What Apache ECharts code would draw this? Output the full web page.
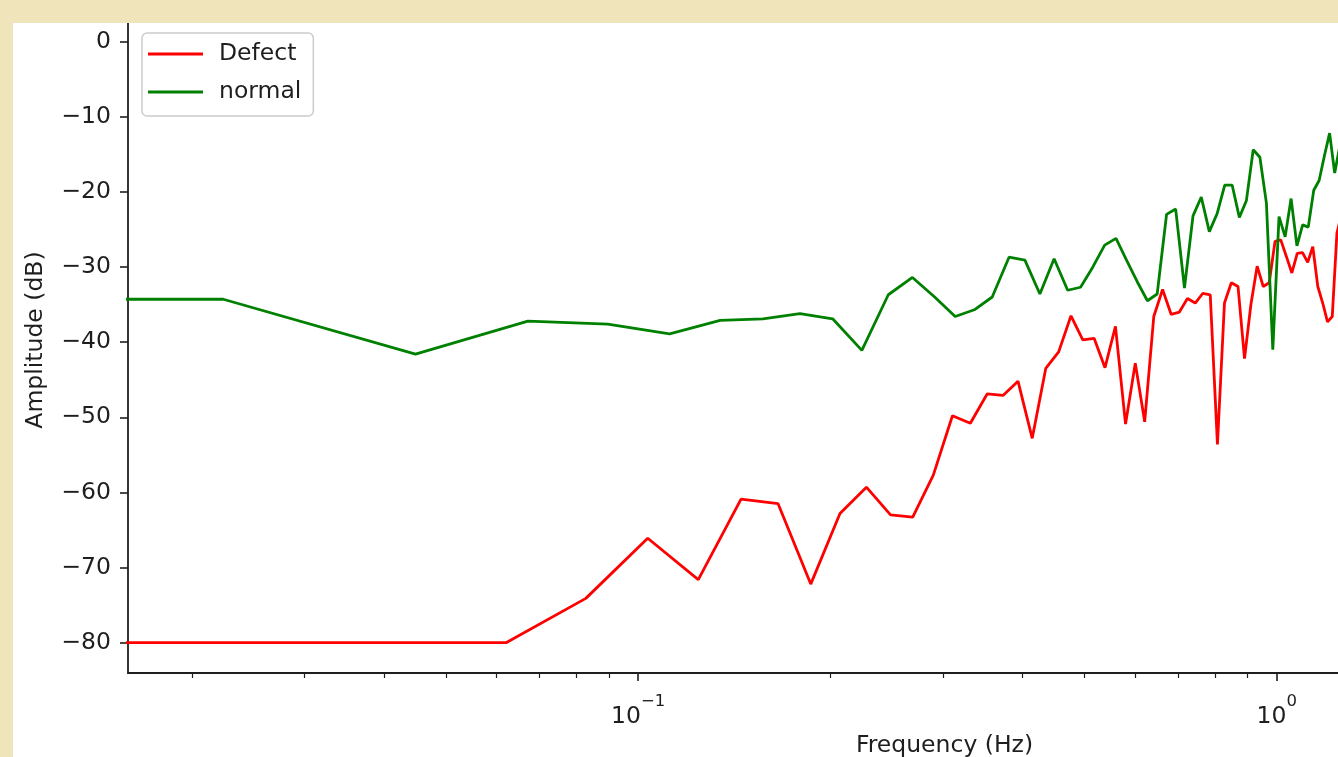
<!DOCTYPE html>
<html>
<head>
<meta charset="utf-8">
<script src="https://cdn.jsdelivr.net/npm/echarts@6/dist/echarts.min.js"></script>
<style>
  html, body { margin: 0; padding: 0; background: #ffffff; }
  #chart { width: 1338px; height: 757px; }
</style>
</head>
<body>
<div id="chart"></div>
<script>
// Spectrum bins above DC (Hz) and their amplitudes (dB)
const defectFreq = [
  0.0207, 0.0414, 0.0621, 0.0828, 0.1035, 0.1242, 0.1449, 0.1656, 0.1863, 0.2070,
  0.2277, 0.2484, 0.2691, 0.2898, 0.3105, 0.3312, 0.3519, 0.3726, 0.3933, 0.4140,
  0.4347, 0.4554, 0.4761, 0.4968, 0.5175, 0.5382, 0.5589, 0.5796, 0.6003, 0.6210,
  0.6417, 0.6624, 0.6831, 0.7038, 0.7245, 0.7452, 0.7659, 0.7866, 0.8073, 0.8280,
  0.8487, 0.8694, 0.8901, 0.9108, 0.9315, 0.9522, 0.9729, 0.9936, 1.0143, 1.0350,
  1.0557, 1.0764, 1.0971, 1.1178, 1.1385, 1.1592, 1.1799, 1.2006, 1.2213, 1.2420,
  1.2627
];
const defectAmp = [
  -80.0, -80.0, -80.0, -74.1, -66.1, -71.6, -60.9, -61.5, -72.2, -62.8,
  -59.3, -63.0, -63.3, -57.7, -49.8, -50.8, -46.9, -47.1, -45.2, -52.8,
  -43.5, -41.3, -36.5, -39.7, -39.5, -43.4, -37.9, -50.9, -42.8, -50.6,
  -36.6, -33.0, -36.3, -36.0, -34.2, -34.8, -33.5, -33.7, -53.6, -34.8,
  -32.1, -32.6, -42.2, -35.0, -29.9, -32.6, -32.1, -26.6, -26.4, -28.6,
  -30.8, -28.2, -28.1, -29.4, -27.3, -32.6, -34.8, -37.3, -36.6, -25.5,
  -23.0
];
const normalFreq = [
  0.0224, 0.0448, 0.0672, 0.0896, 0.1120, 0.1344, 0.1568, 0.1792, 0.2016, 0.2240,
  0.2464, 0.2688, 0.2912, 0.3136, 0.3360, 0.3584, 0.3808, 0.4032, 0.4256, 0.4480,
  0.4704, 0.4928, 0.5152, 0.5376, 0.5600, 0.5824, 0.6048, 0.6272, 0.6496, 0.6720,
  0.6944, 0.7168, 0.7392, 0.7616, 0.7840, 0.8064, 0.8288, 0.8512, 0.8736, 0.8960,
  0.9184, 0.9408, 0.9632, 0.9856, 1.0080, 1.0304, 1.0528, 1.0752, 1.0976, 1.1200,
  1.1424, 1.1648, 1.1872, 1.2096, 1.2320, 1.2544
];
const normalAmp = [
  -34.3, -41.6, -37.2, -37.6, -38.9, -37.1, -36.9, -36.2, -36.9, -41.1,
  -33.7, -31.4, -34.0, -36.6, -35.7, -34.0, -28.7, -29.1, -33.6, -28.9,
  -33.1, -32.7, -30.0, -27.1, -26.2, -29.2, -32.0, -34.5, -33.6, -23.0,
  -22.3, -32.8, -23.2, -20.7, -25.3, -22.9, -19.1, -19.1, -23.4, -21.2,
  -14.4, -15.4, -21.5, -41.0, -23.3, -26.0, -20.9, -27.2, -24.4, -24.7,
  -19.8, -18.5, -15.2, -12.2, -17.5, -14.0
];
// DC level of each spectrum
const defectDC = -80.0;
const normalDC = -34.3;

// Tick positions
const xMajorTicks = [0.1, 1];
const xMinorTicks = [0.02, 0.03, 0.04, 0.05, 0.06, 0.07, 0.08, 0.09,
                     0.2, 0.3, 0.4, 0.5, 0.6, 0.7, 0.8, 0.9, 2, 3, 4, 5];
const yTicks = [-80, -70, -60, -50, -40, -30, -20, -10, 0];

// Axis ranges
const X_MIN = 0.01589, X_MAX = 5.73;
const Y_MIN = -84.03, Y_MAX = 4.59;
// 0 Hz has no place on a log axis: park the DC bin left of the visible range
const DC_PARK_FREQ = 1e-3;

const FONT = 'DejaVu Sans';
const INK = '#1e1e1e';
const FS = 23.5;

function spectrum(dc, freq, amp) {
  return [[DC_PARK_FREQ, dc]].concat(freq.map((f, i) => [f, amp[i]]));
}
const minusSign = s => String(s).replace('-', '\u2212');

const chart = echarts.init(document.getElementById('chart'), null, { renderer: 'canvas' });

chart.setOption({
  animation: false,
  backgroundColor: '#ffffff',
  textStyle: { fontFamily: FONT },
  grid: {
    left: 128, top: 7, width: 1633, height: 666,
    show: false, containLabel: false, outerBoundsMode: 'none'
  },
  legend: {
    data: ['Defect', 'normal'],
    orient: 'vertical',
    left: 142, top: 33,
    icon: 'rect', itemWidth: 55, itemHeight: 3, itemGap: 12,
    padding: [8, 12, 11, 6],
    backgroundColor: 'rgba(255,255,255,0.8)',
    borderColor: '#cccccc', borderWidth: 1.5, borderRadius: 5,
    selectedMode: false,
    textStyle: { fontFamily: FONT, fontSize: FS, color: INK, lineHeight: 26, padding: [0, 0, 0, 11] },
    z: 20
  },
  xAxis: [
    {
      type: 'log', logBase: 10, min: X_MIN, max: X_MAX, position: 'bottom',
      name: 'Frequency (Hz)', nameLocation: 'middle', nameGap: 58,
      nameTextStyle: { fontFamily: FONT, fontSize: FS, color: INK },
      axisLine: { show: true, onZero: false, lineStyle: { color: INK, width: 1.8 } },
      axisTick: { show: true, customValues: xMajorTicks, length: 8, lineStyle: { color: INK, width: 1.6 } },
      axisLabel: {
        customValues: xMajorTicks, margin: 20,
        formatter: v => {
          const e = Math.round(Math.log10(v));
          return '{b|10}{s|' + minusSign(e) + '}';
        },
        rich: {
          b: { fontFamily: FONT, fontSize: FS, color: INK, lineHeight: 36, verticalAlign: 'bottom' },
          s: { fontFamily: FONT, fontSize: 16.5, color: INK, lineHeight: 11, verticalAlign: 'top' }
        }
      },
      splitLine: { show: false }
    },
    {
      type: 'log', logBase: 10, min: X_MIN, max: X_MAX, position: 'bottom', gridIndex: 0,
      axisLine: { show: false, onZero: false },
      axisTick: { show: true, customValues: xMinorTicks, length: 5, lineStyle: { color: INK, width: 1.2 } },
      axisLabel: { show: false },
      splitLine: { show: false }
    }
  ],
  yAxis: {
    type: 'value', min: Y_MIN, max: Y_MAX,
    name: 'Amplitude (dB)', nameLocation: 'middle', nameGap: 80, nameRotate: 90,
    nameTextStyle: { fontFamily: FONT, fontSize: FS, color: INK },
    axisLine: { show: true, onZero: false, lineStyle: { color: INK, width: 1.8 } },
    axisTick: { show: true, customValues: yTicks, length: 8, lineStyle: { color: INK, width: 1.6 } },
    axisLabel: {
      customValues: yTicks, margin: 17, padding: [3, 0, 0, 0],
      fontFamily: FONT, fontSize: FS, color: INK,
      formatter: v => minusSign(v)
    },
    splitLine: { show: false }
  },
  series: [
    {
      name: 'Defect', type: 'line', xAxisIndex: 0,
      data: spectrum(defectDC, defectFreq, defectAmp),
      showSymbol: false, symbol: 'none', clip: true,
      color: '#ff0000',
      lineStyle: { color: '#ff0000', width: 2.8 }
    },
    {
      name: 'normal', type: 'line', xAxisIndex: 0,
      data: spectrum(normalDC, normalFreq, normalAmp),
      showSymbol: false, symbol: 'none', clip: true,
      color: '#008000',
      lineStyle: { color: '#008000', width: 2.8 }
    }
  ],
  graphic: [
    // page border round the figure
    { type: 'rect', left: 0, top: 0, shape: { width: 1338, height: 23 }, style: { fill: '#f0e5ba' }, z: 100, silent: true },
    { type: 'rect', left: 0, top: 0, shape: { width: 13, height: 757 }, style: { fill: '#f0e5ba' }, z: 100, silent: true }
  ]
});
</script>
</body>
</html>
